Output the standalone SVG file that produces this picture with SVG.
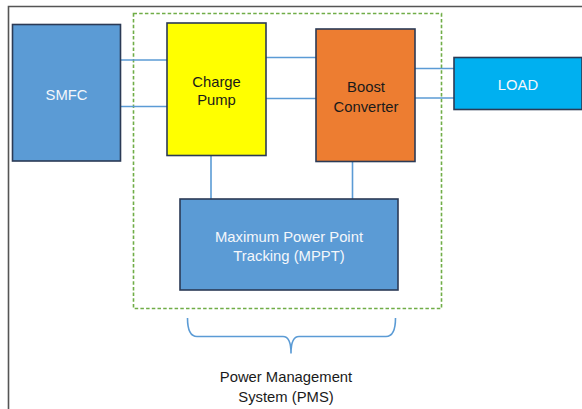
<svg xmlns="http://www.w3.org/2000/svg" width="582" height="409" viewBox="0 0 582 409">
<style>
.box{stroke:#2b3a55;stroke-width:1.6}
.t{font-family:"Liberation Sans",Arial,sans-serif;font-size:14.8px;text-anchor:middle}
.w{fill:#f4f7fb}
.d{fill:#1a1a1a}
.c{stroke:#5b9bd5;stroke-width:1.6;fill:none}
</style>
<rect width="582" height="409" fill="#ffffff"/>
<path d="M8.5,409 V6.5 H582" fill="none" stroke="#555" stroke-width="1.6"/>
<rect x="133.5" y="13.5" width="308" height="295" fill="none" stroke="#70ad47" stroke-width="1.6" stroke-dasharray="3.5,2.2"/>
<g id="connectors">
<line class="c" x1="121" y1="60" x2="167" y2="60"/>
<line class="c" x1="121" y1="106.5" x2="167" y2="106.5"/>
<line class="c" x1="266" y1="57.5" x2="316" y2="57.5"/>
<line class="c" x1="266" y1="98.5" x2="316" y2="98.5"/>
<line class="c" x1="415" y1="68.5" x2="454" y2="68.5"/>
<line class="c" x1="415" y1="98" x2="454" y2="98"/>
<line class="c" x1="211" y1="156" x2="211" y2="199"/>
<line class="c" x1="352.5" y1="162" x2="352.5" y2="199"/>
<path class="c" d="M187.5,318 Q187.5,336.5 197,336.5 H283 Q291,336.5 291,353.5 Q291,336.5 299,336.5 H386 Q395.5,336.5 395.5,318"/>
</g>
<g id="smfc">
<rect class="box" x="12.5" y="24.5" width="108" height="136.5" fill="#5b9bd5"/>
<text class="t w" x="66.5" y="100">SMFC</text>
</g>
<g id="charge-pump">
<rect class="box" x="167" y="23" width="99" height="132.5" fill="#ffff00"/>
<text class="t d" x="216.5" y="86.5">Charge</text>
<text class="t d" x="216.5" y="105">Pump</text>
</g>
<g id="boost-converter">
<rect class="box" x="316" y="29" width="99" height="132.5" fill="#ed7d31"/>
<text class="t d" x="366" y="92">Boost</text>
<text class="t d" x="366" y="111.5">Converter</text>
</g>
<g id="load">
<rect class="box" x="454" y="57.5" width="128" height="52" fill="#00b0f0"/>
<text class="t w" x="518" y="89.5">LOAD</text>
</g>
<g id="mppt">
<rect class="box" x="180" y="199" width="218" height="91" fill="#5b9bd5"/>
<text class="t w" x="289" y="241.5">Maximum Power Point</text>
<text class="t w" x="289" y="261">Tracking (MPPT)</text>
</g>
<g id="pms-label">
<text class="t d" x="286" y="382">Power Management</text>
<text class="t d" x="286" y="401.5">System (PMS)</text>
</g>
</svg>
